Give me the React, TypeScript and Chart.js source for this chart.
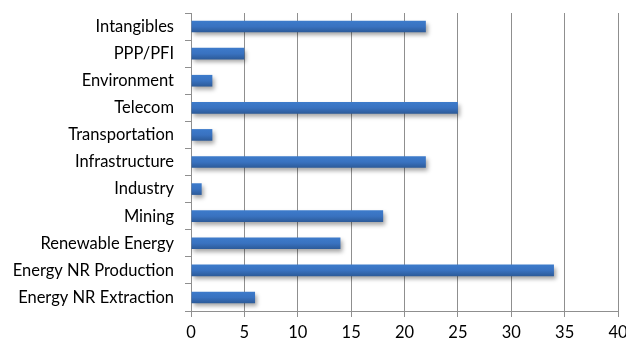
import React, { useEffect, useRef } from "react";
import { Chart, registerables } from "chart.js";

Chart.register(...registerables);

const categories = [
  "Intangibles",
  "PPP/PFI",
  "Environment",
  "Telecom",
  "Transportation",
  "Infrastructure",
  "Industry",
  "Mining",
  "Renewable Energy",
  "Energy NR Production",
  "Energy NR Extraction",
];

const values = [22, 5, 2, 25, 2, 22, 1, 18, 14, 34, 6];

const xMin = 0;
const xMax = 40;
const xStep = 5;

const FONT = "Lato, 'Open Sans', sans-serif";
const GRID = "#8f8f8f";

// Gives every bar its own top-to-bottom shading and a soft drop shadow.
const barStyle = {
  id: "barStyle",
  beforeDatasetsDraw(chart: any) {
    const ctx = chart.ctx;
    const meta = chart.getDatasetMeta(0);
    meta.data.forEach((bar: any) => {
      const top = bar.y - bar.height / 2;
      const bottom = bar.y + bar.height / 2;
      const g = ctx.createLinearGradient(0, top, 0, bottom);
      g.addColorStop(0, "#3d7bcb");
      g.addColorStop(0.5, "#3972c0");
      g.addColorStop(1, "#2c5a98");
      bar.options = { ...bar.options, backgroundColor: g };
    });
    ctx.save();
    ctx.shadowColor = "rgba(0,0,0,0.35)";
    ctx.shadowBlur = 4;
    ctx.shadowOffsetX = 2;
    ctx.shadowOffsetY = 3;
  },
  afterDatasetsDraw(chart: any) {
    chart.ctx.restore();
  },
};

export default function App() {
  const canvasRef = useRef<HTMLCanvasElement | null>(null);

  useEffect(() => {
    const canvas = canvasRef.current;
    if (!canvas) return;
    const chart = new Chart(canvas, {
      type: "bar",
      data: {
        labels: categories,
        datasets: [
          {
            data: values,
            backgroundColor: "#3972c0",
            borderWidth: 0,
            categoryPercentage: 1,
            barPercentage: 0.43,
          },
        ],
      },
      options: {
        indexAxis: "y",
        animation: false,
        responsive: false,
        maintainAspectRatio: false,
        layout: { padding: { top: 13, right: 8, left: 0, bottom: 0 } },
        plugins: {
          legend: { display: false },
          tooltip: { enabled: false },
        },
        scales: {
          x: {
            type: "linear",
            min: xMin,
            max: xMax,
            afterFit(scale: any) {
              scale.height = 31;
              scale.paddingLeft = 0;
              scale.paddingRight = 0;
            },
            ticks: {
              stepSize: xStep,
              color: "#000",
              font: { family: FONT, size: 16.5 },
              padding: 6,
            },
            grid: {
              color: GRID,
              lineWidth: 1,
              drawTicks: true,
              tickLength: 6,
            },
            border: { display: true, color: GRID },
          },
          y: {
            type: "category",
            afterFit(scale: any) {
              scale.width = 191;
              scale.paddingTop = 0;
              scale.paddingBottom = 0;
            },
            ticks: {
              color: "#000",
              font: { family: FONT, size: 16.5 },
              padding: 11,
            },
            grid: {
              drawOnChartArea: false,
              drawTicks: true,
              tickLength: 6,
              color: GRID,
            },
            border: { display: true, color: GRID },
          },
        },
      },
      plugins: [barStyle],
    });
    return () => chart.destroy();
  }, []);

  return (
    <div style={{ position: "fixed", left: 0, top: 0, width: 626, height: 342, background: "#fff" }}>
      <canvas ref={canvasRef} width={626} height={342} />
    </div>
  );
}
